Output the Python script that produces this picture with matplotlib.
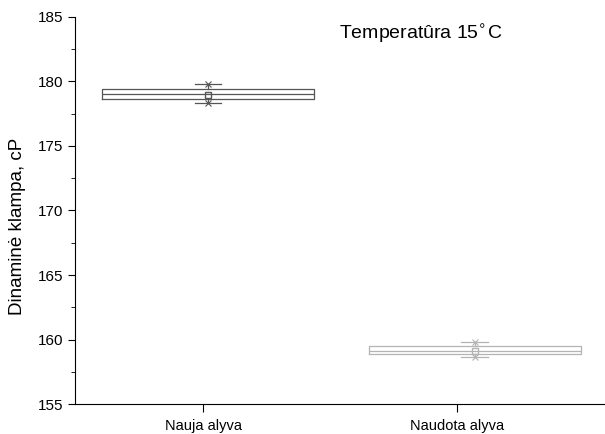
import numpy as np
import matplotlib.pyplot as plt

plt.rcParams['font.family'] = ['Liberation Sans', 'DejaVu Sans']

# viscosity summary per oil sample, cP
categories = ["Nauja alyva", "Naudota alyva"]
q1 = [178.64, 158.88]
med = [179.03, 159.11]
q3 = [179.42, 159.50]
mean = [178.95, 159.10]
wlo = [178.33, 158.64]
whi = [179.81, 159.81]

colors = ["#555555", "#b4b4b4"]
box_pos = [1.02, 2.07]

fig = plt.figure(figsize=(6.05, 4.34), dpi=100)
ax = fig.add_axes([0.124, 0.069, 0.876, 0.892])

for i in range(len(categories)):
    stats = [dict(q1=q1[i], med=med[i], q3=q3[i], mean=mean[i],
                  whislo=wlo[i], whishi=whi[i], fliers=[])]
    c = colors[i]
    ax.bxp(stats, positions=[box_pos[i]], widths=0.835, showmeans=True,
           boxprops=dict(color=c, linewidth=0.9),
           medianprops=dict(color=c, linewidth=0.9),
           whiskerprops=dict(color=c, linewidth=0.9),
           capprops=dict(color=c, linewidth=0.9),
           capwidths=0.105,
           meanprops=dict(marker="s", markerfacecolor="none",
                          markeredgecolor=c, markersize=5))
    ax.plot([box_pos[i]] * 2, [wlo[i], whi[i]], linestyle="none", marker="x",
            color=c, markersize=5, markeredgewidth=0.8)

ax.set_xlim(0.496, 2.583)
ax.set_ylim(155, 185)
ax.set_xticks([1, 2])
ax.set_xticklabels(categories, fontsize=10.5)
ax.set_yticks(np.arange(155, 186, 5))
ax.set_yticks(np.arange(155, 185, 2.5), minor=True)
ax.tick_params(axis="y", which="major", direction="out", length=5, labelsize=11)
ax.tick_params(axis="y", which="minor", direction="out", length=3)
ax.tick_params(axis="x", direction="out", length=6, pad=5)
ax.spines["top"].set_visible(False)
ax.spines["right"].set_visible(False)
ax.set_ylabel("Dinaminė klampa, cP", fontsize=13.5)
ax.yaxis.set_label_coords(-0.092, 0.46)

ax.text(0.653, 0.955, r"Temperatûra 15$^{\circ}$C", transform=ax.transAxes,
        ha="center", va="center", fontsize=14)

fig.savefig("out.png", dpi=100)
